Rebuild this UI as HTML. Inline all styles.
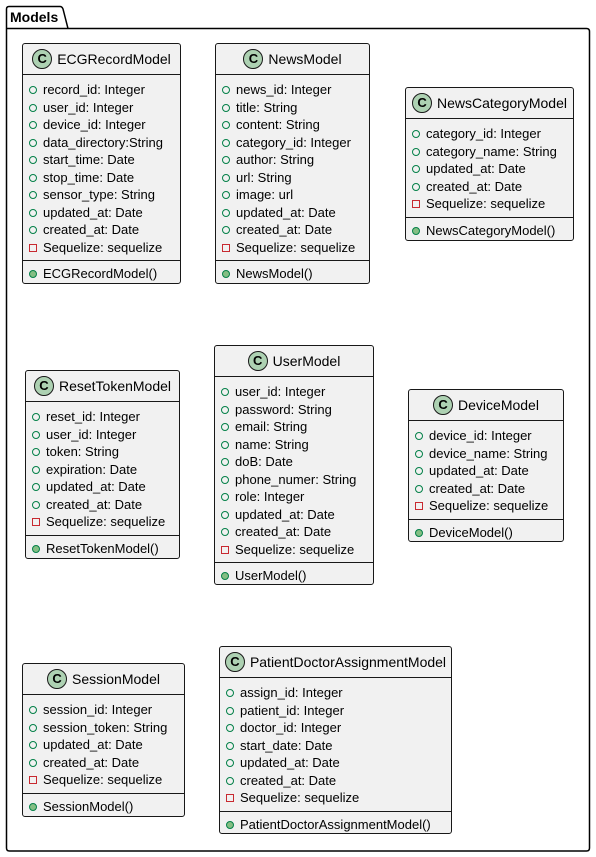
<!DOCTYPE html>
<html><head><meta charset="utf-8"><style>
body{margin:0;width:596px;height:857px;background:#fff;position:relative;font-family:"Liberation Sans",sans-serif;color:#000;overflow:hidden}
.lbl{position:absolute;left:10px;top:9px;font-weight:bold;font-size:14px}
.c{position:absolute;background:#F1F1F1;border:1px solid #181818;border-radius:3px;box-sizing:border-box;font-size:13px}
.h{height:30px;display:flex;align-items:center;justify-content:center;border-bottom:1px solid #181818;font-size:14px}
.i{width:20px;height:20px;border-radius:50%;background:#ADD1B2;border:1px solid #181818;box-sizing:border-box;margin-right:5px;font-weight:bold;font-size:13px;text-align:center;line-height:18px}
.s{padding:6px 0 4px 0;border-bottom:1px solid #181818}
.s:last-child{border-bottom:none;padding-top:4px}
.r{height:17.5px;line-height:17.5px;position:relative;padding-left:20px;white-space:nowrap}
.r:before{content:"";position:absolute;left:6px;top:5px;width:6px;height:6px;border:1px solid #038048;border-radius:50%}
.r.p:before{border-color:#C82930;border-radius:0}
.r.m:before{background:#84BE84;border-color:#038048}
</style></head><body>
<svg width="596" height="857" style="position:absolute;left:0;top:0">
<path d="M6.5 28.5 V9 Q6.5 6.5 9 6.5 H60 Q62 6.5 63 9 L68 28.5 H586.5 Q589.5 28.5 589.5 31.5 V848 Q589.5 851 586.5 851 H9.5 Q6.5 851 6.5 848 Z M6.5 28.5 H68" fill="none" stroke="#000" stroke-width="1.5"/>
</svg>
<div class="lbl">Models</div>

<div class="c" style="left:22px;top:43px;width:159px;height:241px"><div class="h"><div class="i">C</div>ECGRecordModel</div>
<div class="s"><div class="r">record_id: Integer</div><div class="r">user_id: Integer</div><div class="r">device_id: Integer</div><div class="r">data_directory:String</div><div class="r">start_time: Date</div><div class="r">stop_time: Date</div><div class="r">sensor_type: String</div><div class="r">updated_at: Date</div><div class="r">created_at: Date</div><div class="r p">Sequelize: sequelize</div></div>
<div class="s"><div class="r m">ECGRecordModel()</div></div></div>

<div class="c" style="left:215px;top:43px;width:155px;height:241px"><div class="h"><div class="i">C</div>NewsModel</div>
<div class="s"><div class="r">news_id: Integer</div><div class="r">title: String</div><div class="r">content: String</div><div class="r">category_id: Integer</div><div class="r">author: String</div><div class="r">url: String</div><div class="r">image: url</div><div class="r">updated_at: Date</div><div class="r">created_at: Date</div><div class="r p">Sequelize: sequelize</div></div>
<div class="s"><div class="r m">NewsModel()</div></div></div>

<div class="c" style="left:405px;top:87px;width:169px;height:154px"><div class="h"><div class="i">C</div>NewsCategoryModel</div>
<div class="s"><div class="r">category_id: Integer</div><div class="r">category_name: String</div><div class="r">updated_at: Date</div><div class="r">created_at: Date</div><div class="r p">Sequelize: sequelize</div></div>
<div class="s"><div class="r m">NewsCategoryModel()</div></div></div>

<div class="c" style="left:25px;top:370px;width:155px;height:189px"><div class="h"><div class="i">C</div>ResetTokenModel</div>
<div class="s"><div class="r">reset_id: Integer</div><div class="r">user_id: Integer</div><div class="r">token: String</div><div class="r">expiration: Date</div><div class="r">updated_at: Date</div><div class="r">created_at: Date</div><div class="r p">Sequelize: sequelize</div></div>
<div class="s"><div class="r m">ResetTokenModel()</div></div></div>

<div class="c" style="left:214px;top:345px;width:160px;height:240px"><div class="h"><div class="i">C</div>UserModel</div>
<div class="s"><div class="r">user_id: Integer</div><div class="r">password: String</div><div class="r">email: String</div><div class="r">name: String</div><div class="r">doB: Date</div><div class="r">phone_numer: String</div><div class="r">role: Integer</div><div class="r">updated_at: Date</div><div class="r">created_at: Date</div><div class="r p">Sequelize: sequelize</div></div>
<div class="s"><div class="r m">UserModel()</div></div></div>

<div class="c" style="left:408px;top:389px;width:156px;height:153px"><div class="h"><div class="i">C</div>DeviceModel</div>
<div class="s"><div class="r">device_id: Integer</div><div class="r">device_name: String</div><div class="r">updated_at: Date</div><div class="r">created_at: Date</div><div class="r p">Sequelize: sequelize</div></div>
<div class="s"><div class="r m">DeviceModel()</div></div></div>

<div class="c" style="left:22px;top:663px;width:163px;height:154px"><div class="h"><div class="i">C</div>SessionModel</div>
<div class="s"><div class="r">session_id: Integer</div><div class="r">session_token: String</div><div class="r">updated_at: Date</div><div class="r">created_at: Date</div><div class="r p">Sequelize: sequelize</div></div>
<div class="s"><div class="r m">SessionModel()</div></div></div>

<div class="c" style="left:219px;top:646px;width:233px;height:188px"><div class="h"><div class="i">C</div>PatientDoctorAssignmentModel</div>
<div class="s"><div class="r">assign_id: Integer</div><div class="r">patient_id: Integer</div><div class="r">doctor_id: Integer</div><div class="r">start_date: Date</div><div class="r">updated_at: Date</div><div class="r">created_at: Date</div><div class="r p">Sequelize: sequelize</div></div>
<div class="s"><div class="r m">PatientDoctorAssignmentModel()</div></div></div>
</body></html>
